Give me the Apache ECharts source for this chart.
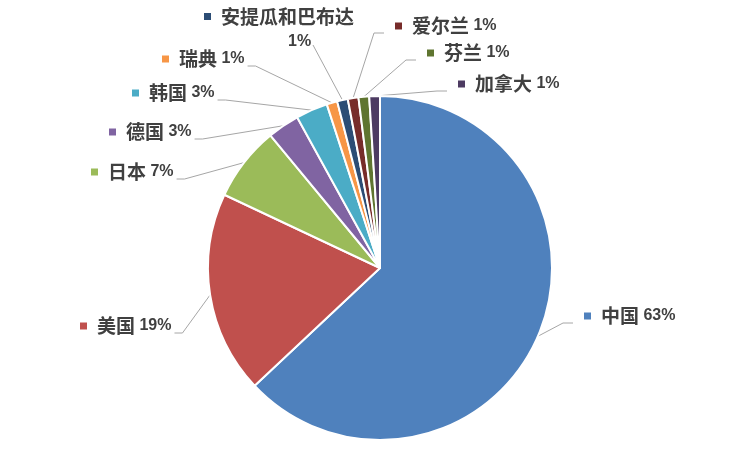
<!DOCTYPE html>
<html><head><meta charset="utf-8">
<script src="https://cdn.jsdelivr.net/npm/echarts@6/dist/echarts.min.js"></script>
<style>html,body{margin:0;padding:0;background:#fff}#c{width:751px;height:451px}</style>
</head><body><div id="c"></div>
<script>
const categories = ['中国','美国','日本','德国','韩国','瑞典','安提瓜和巴布达','爱尔兰','芬兰','加拿大'];
const shares = [63,19,7,3,3,1,1,1,1,1];
const colors = ['#4F81BD','#C0504D','#9BBB59','#8064A2','#4BACC6','#F79646','#2C4D75','#772C2A','#5F7530','#4D3B62'];
// label placement (marker left x, text middle y)
const labelAnchors = [[584,316],[80,326],[91,172],[109,132],[132,93],[162,59],[204,29],[395,26],[427,53],[458,84]];

const CX = 380, CY = 268, R = 172;
const total = shares.reduce((a,b)=>a+b,0);

const rich = {
  c: {fontFamily:'Noto Sans CJK SC', fontSize:19, fontWeight:'bold', color:'#404040', lineHeight:25},
  n: {fontFamily:'Liberation Sans', fontSize:16, fontWeight:'bold', color:'#404040', lineHeight:25},
  sp: {width:10, lineHeight:25},
  sp2: {width:84, lineHeight:25}
};
colors.forEach((c,i)=>{ rich['m'+i] = {width:7, height:7, backgroundColor:c, verticalAlign:'middle'}; });

const chart = echarts.init(document.getElementById('c'), null, {renderer:'canvas'});
chart.setOption({
  backgroundColor:'#fff',
  animation:false,
  series:[{
    type:'pie',
    center:[CX, CY],
    radius:[0, R],
    startAngle:90,
    clockwise:true,
    avoidLabelOverlap:false,
    color: colors,
    itemStyle:{borderColor:'#fff', borderWidth:2},
    emphasis:{disabled:true},
    label:{
      show:true,
      position:'outside',
      rich: rich,
      formatter: p => {
        const i = p.dataIndex;
        const pct = Math.round(p.percent) + '%';
        if (i === 6) return `{m${i}|}{sp|}{c|${p.name}}\n{sp2|}{n|${pct}}`;
        return `{m${i}|}{sp|}{c|${p.name}}{n| ${pct}}`;
      }
    },
    labelLine:{show:true, length:10, length2:10, smooth:false, lineStyle:{color:'#A6A6A6', width:1}},
    labelLayout: p => {
      const i = p.dataIndex;
      const a = labelAnchors[i];
      const w = p.labelRect.width;
      let start;
      if (p.labelLinePoints && p.labelLinePoints[0]) {
        start = p.labelLinePoints[0].slice();
      } else {
        let cum = 0; for (let k=0;k<i;k++) cum += shares[k];
        const ang = (cum + shares[i]/2) / total * Math.PI * 2;
        start = [CX + R*Math.sin(ang), CY - R*Math.cos(ang)];
      }
      let end, bend;
      if (i === 6) {
        end = [a[0] + 84 + 25, a[1] + 16]; bend = end.slice();
      } else if (a[0] < CX) {
        end = [a[0] + w + 3, a[1] + 7]; bend = [end[0] + 8, end[1]];
      } else {
        end = [a[0] - 11, a[1] + 7]; bend = [end[0] - 10, end[1]];
      }
      return {x:a[0], y:a[1], align:'left', verticalAlign:'middle', labelLinePoints:[start, bend, end]};
    },
    data: categories.map((n,i)=>({name:n, value:shares[i]}))
  }]
});
</script>
</body></html>
